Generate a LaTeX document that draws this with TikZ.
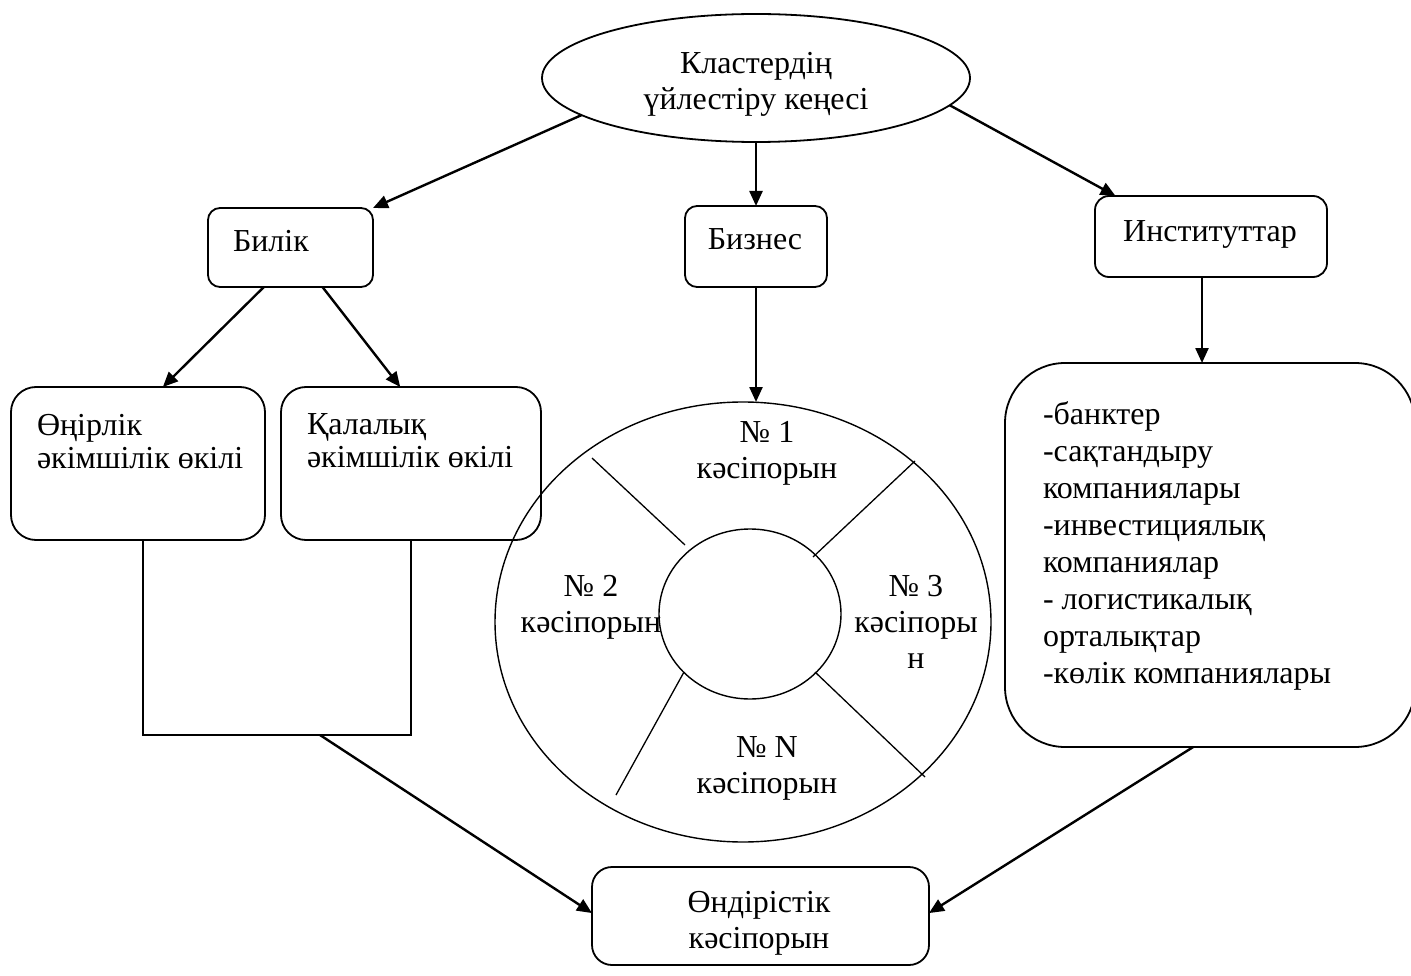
\documentclass[tikz,border=0pt]{standalone}
\usepackage{fontspec}
\setmainfont{Liberation Serif}
\usetikzlibrary{arrows.meta,shapes.geometric}
\begin{document}
\begin{tikzpicture}[x=1pt,y=-1pt,
  every node/.style={inner sep=0pt, outer sep=0pt},
  box/.style={draw, line width=1.8pt, rounded corners=#1},
  box/.default=12pt,
  txt/.style={font=\fontsize{32pt}{36pt}\selectfont, align=center},
  txtl/.style={font=\fontsize{32pt}{#1}\selectfont, align=left},
  txtl/.default=36pt,
  arr/.style={line width=2.4pt, -{Triangle[length=15pt,width=13pt]}},
  ln/.style={line width=1.7pt},
  thin/.style={line width=1.3pt}]
\useasboundingbox (0,0) rectangle (1411,976);

% top ellipse
\node[draw, ellipse, line width=1.8pt, minimum width=428pt, minimum height=128pt] (top) at (756,78) {};
\node[txt, anchor=north] (ttop) at (756,52) {Кластердің\\үйлестіру кеңесі};

% second row
\node[box=12pt, minimum width=165pt, minimum height=79pt] (bilik) at (290.5,247.5) {};
\node[txtl, anchor=north west] (tbilik) at (233,230) {Билік};
\node[box=12pt, minimum width=142pt, minimum height=81pt] (biz) at (756,246.5) {};
\node[txt, anchor=north] (tbiz) at (755,229) {Бизнес};
\node[box=14pt, minimum width=232pt, minimum height=81pt] (inst) at (1211,236.5) {};
\node[txt, anchor=north] (tinst) at (1210,221) {Институттар};

% left boxes
\node[box=25pt, minimum width=254pt, minimum height=153pt] (orn) at (138,463.5) {};
\node[txtl=33pt, anchor=north west] (torn) at (37,414) {Өңірлік\\әкімшілік өкілі};
\node[box=25pt, minimum width=260pt, minimum height=153pt] (kal) at (411,463.5) {};
\node[txtl=33pt, anchor=north west] (tkal) at (307,414) {Қалалық\\әкімшілік өкілі};

% ring
\node[draw, ellipse, line width=1.4pt, minimum width=496pt, minimum height=440pt] (ring) at (743,622) {};
\node[draw, ellipse, line width=1.4pt, minimum width=182pt, minimum height=170pt] (hub) at (750,614) {};
\draw[thin] (592,458) -- (685,545);
\draw[thin] (915,461) -- (813,557);
\draw[thin] (815,672) -- (925,777);
\draw[thin] (684,672) -- (616,795);
\node[txt, anchor=north] (k1) at (767,421) {№ 1\\кәсіпорын};
\node[txt, anchor=north] (k2) at (591,575) {№ 2\\кәсіпорын};
\node[txt, anchor=north] (k3) at (916,575) {№ 3\\кәсіпоры\\н};
\node[txt, anchor=north] (kn) at (767,737) {№ N\\кәсіпорын};

% right big box
\node[box=60pt, minimum width=410pt, minimum height=384pt] (big) at (1210,555) {};
\node[txtl=37pt, anchor=north west] (tbig) at (1043,402) {-банктер\\-сақтандыру\\компаниялары\\-инвестициялық\\компаниялар\\- логистикалық\\орталықтар\\-көлік компаниялары};

% bottom box
\node[box=20pt, minimum width=337pt, minimum height=98pt] (prod) at (760.5,916) {};
\node[txt, anchor=north] (tprod) at (759,891) {Өндірістік\\кәсіпорын};

% connectors
\draw[arr] (top.192) -- (bilik.north east);
\draw[arr] (top.south) -- (biz.north);
\draw[arr] (top.352) -- (inst.157);
\draw[arr] (bilik.236) -- (orn.72);
\draw[arr] (bilik.309) -- (kal.98);
\draw[arr] (biz.south) -- (biz.south |- ring.north);
\draw[arr] ([xshift=-9pt]inst.south) -- ([xshift=-9pt]inst.south |- big.north);
\draw[ln] ([xshift=5pt]orn.south) -- ++(0,195) coordinate (bl) -| (kal.south);
\coordinate (bk) at (320,735);
\draw[arr] (bk) -- (prod.179);
\draw[arr] (big.265.5) -- (prod.1);
\end{tikzpicture}
\end{document}
